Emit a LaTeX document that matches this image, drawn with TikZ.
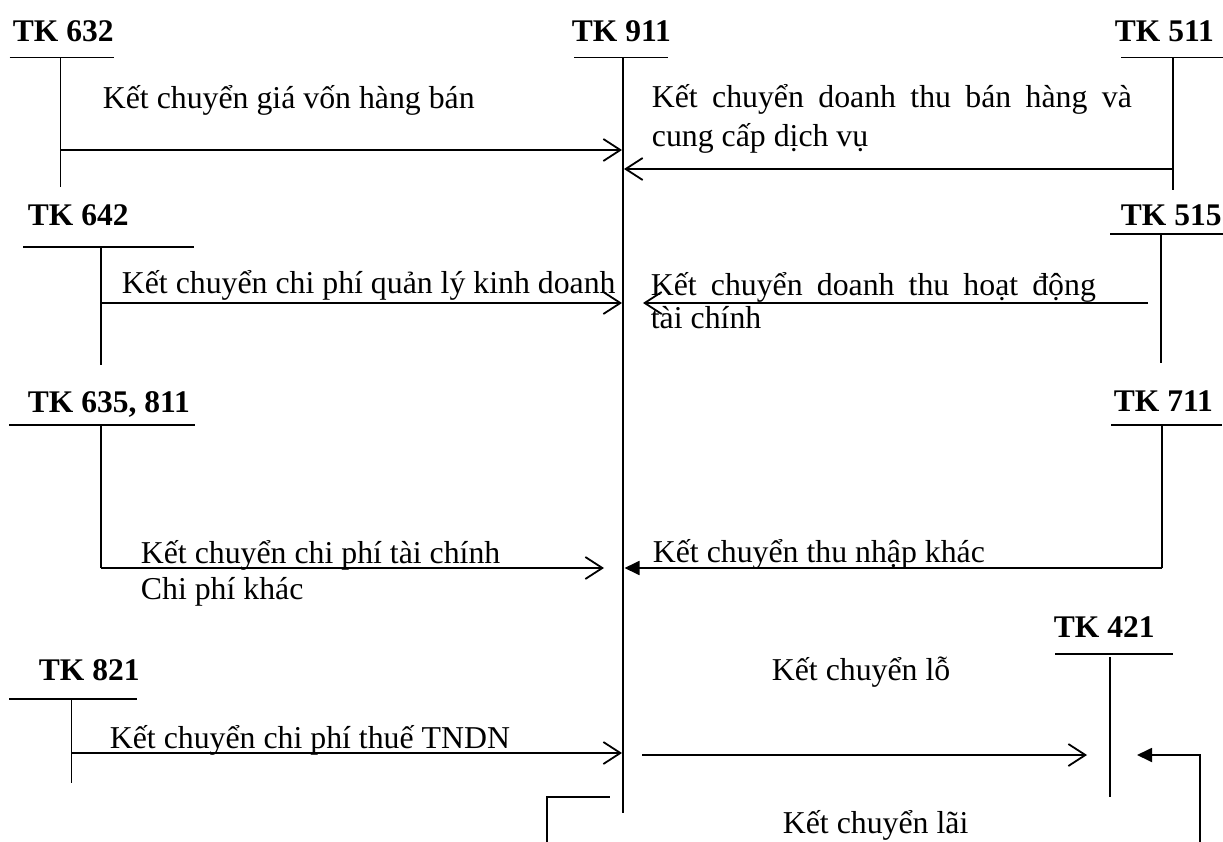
\documentclass[tikz,border=0pt]{standalone}
\usepackage{fontspec}
\setmainfont{Liberation Serif}
\usetikzlibrary{arrows.meta}
\newcommand{\twojust}[4]{\vtop{\baselineskip=#2\hbox{\makebox[#1][s]{#3}}\hbox{#4}}}
\newcommand{\twoplain}[3]{\vtop{\baselineskip=#1\hbox{#2}\hbox{#3}}}
\begin{document}
\begin{tikzpicture}[x=1pt,y=-1pt,line width=1.8pt,
  lab/.style={anchor=base west,inner sep=0pt,font=\fontsize{31.8}{38}\selectfont},
  head/.style={anchor=base west,inner sep=0pt,font=\fontsize{31.5}{38}\selectfont\bfseries},
  open/.style={-{Straight Barb[length=17pt,width=22pt]}},
  filled/.style={-{Triangle[length=15pt,width=14pt]}}]
\useasboundingbox (0,0) rectangle (1223,842);

% ---- headings
\node[head] (h632) at (12,42) {TK 632};
\node[head] (h911) at (571,42) {TK 911};
\node[head] (h511) at (1114,42) {TK 511};
\node[head] (h642) at (27,226) {TK 642};
\node[head] (h515) at (1120,226) {TK 515};
\node[head] (h635) at (27,412) {TK 635, 811};
\node[head] (h711) at (1113,411) {TK 711};
\node[head] (h821) at (38,680) {TK 821};
\node[head] (h421) at (1053,637) {TK 421};

% ---- T-account lines
\coordinate (u632l) at (9.5,57.5);  \coordinate (u632r) at (114,57.5);
\coordinate (v632t) at (60.5,57.5); \coordinate (v632b) at (60.5,187);
\coordinate (u911l) at (574,57.5);  \coordinate (u911r) at (668,57.5);
\coordinate (v911t) at (623,57.5);  \coordinate (v911b) at (623,813);
\coordinate (u511l) at (1121,57.5); \coordinate (u511r) at (1223,57.5);
\coordinate (v511t) at (1173,57.5); \coordinate (v511b) at (1173,190);
\coordinate (u642l) at (23,247);    \coordinate (u642r) at (194,247);
\coordinate (v642t) at (101,247);   \coordinate (v642b) at (101,365);
\coordinate (u515l) at (1110,234);  \coordinate (u515r) at (1223,234);
\coordinate (v515t) at (1161,234);  \coordinate (v515b) at (1161,363);
\coordinate (u635l) at (9,425);     \coordinate (u635r) at (195,425);
\coordinate (v635t) at (101,425);   \coordinate (v635b) at (101,568);
\coordinate (u711l) at (1111,425);  \coordinate (u711r) at (1222,425);
\coordinate (v711t) at (1162,425);  \coordinate (v711b) at (1162,568);
\coordinate (u821l) at (9,699);     \coordinate (u821r) at (137,699);
\coordinate (v821t) at (71.5,699);  \coordinate (v821b) at (71.5,783);
\coordinate (u421l) at (1055,654);  \coordinate (u421r) at (1173,654);
\coordinate (v421t) at (1110,657);  \coordinate (v421b) at (1110,797);

\foreach \a in {632,911,511,642,515,635,711,821,421}{
  \draw (u\a l) -- (u\a r);
  \draw (v\a t) -- (v\a b);
}

% ---- connectors
\coordinate (a1s) at (60.5,150);  \coordinate (a1e) at (622,150);
\coordinate (a2s) at (1173,169);  \coordinate (a2e) at (624,169);
\coordinate (a3s) at (101,303);   \coordinate (a3e) at (622,303);
\coordinate (a4s) at (1148,303);  \coordinate (a4e) at (643,303);
\coordinate (a5s) at (101,568);   \coordinate (a5e) at (604,568);
\coordinate (a6s) at (1162,568);  \coordinate (a6e) at (624.5,568);
\coordinate (a7s) at (71.5,753);  \coordinate (a7e) at (622,753);
\coordinate (a8s) at (642,755);   \coordinate (a8e) at (1087,755);
\coordinate (a9s) at (1200,842);  \coordinate (a9m) at (1200,755); \coordinate (a9e) at (1137,755);
\coordinate (b1s) at (609.5,797); \coordinate (b1m) at (547,797);  \coordinate (b1e) at (547,842);

\draw[open] (a1s) -- (a1e);
\draw[open] (a2s) -- (a2e);
\draw[open] (a3s) -- (a3e);
\draw[open] (a4s) -- (a4e);
\draw[open] (a5s) -- (a5e);
\draw[filled] (a6s) -- (a6e);
\draw[open] (a7s) -- (a7e);
\draw[open] (a8s) -- (a8e);
\draw[filled] (a9s) -- (a9m) -- (a9e);
\draw (b1s) -- (b1m) -- (b1e);

% ---- labels
\node[lab] (l1) at (102,109) {Kết chuyển giá vốn hàng bán};
\node[lab] (l2) at (651,108) {\twojust{480pt}{39pt}{Kết chuyển doanh thu bán hàng và}{cung cấp dịch vụ}};
\node[lab] (l3) at (121,294) {Kết chuyển chi phí quản lý kinh doanh};
\node[lab] (l4) at (650,295) {\twojust{445pt}{33pt}{Kết chuyển doanh thu hoạt động}{tài chính}};
\node[lab] (l5) at (140,563) {\twoplain{36pt}{Kết chuyển chi phí tài chính}{Chi phí khác}};
\node[lab] (l6) at (652,562) {Kết chuyển thu nhập khác};
\node[lab] (l7) at (109,748) {Kết chuyển chi phí thuế TNDN};
\node[lab] (l8) at (771,680) {Kết chuyển lỗ};
\node[lab] (l9) at (782,833) {Kết chuyển lãi};
\end{tikzpicture}
\end{document}
